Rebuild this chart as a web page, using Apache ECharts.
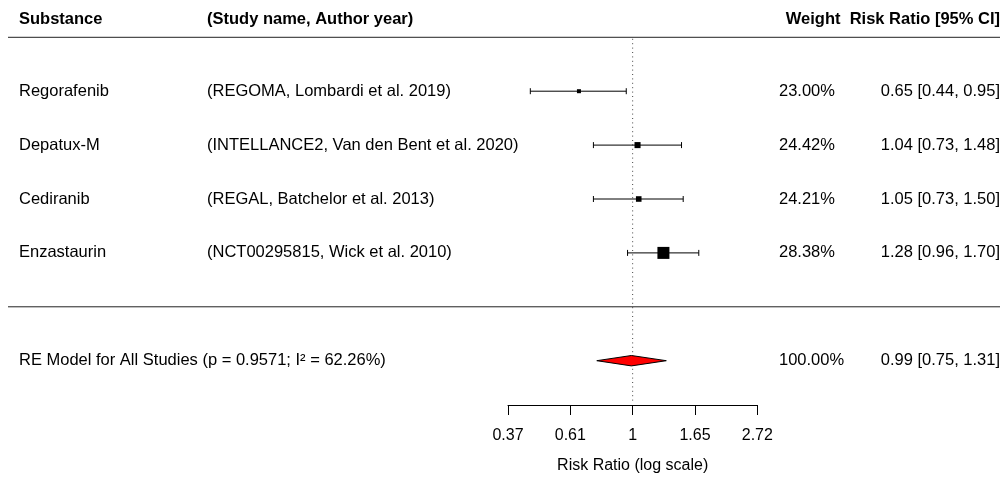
<!DOCTYPE html>
<html>
<head>
<meta charset="utf-8">
<script src="https://cdn.jsdelivr.net/npm/echarts@6/dist/echarts.min.js"></script>
<style>
html,body{margin:0;padding:0;background:#fff;}
#chart{width:1005px;height:479px;}
</style>
</head>
<body>
<div id="chart"></div>
<script>
// ---- data ----
const substances = ['Regorafenib', 'Depatux-M', 'Cediranib', 'Enzastaurin'];
const studies = ['(REGOMA, Lombardi et al. 2019)', '(INTELLANCE2, Van den Bent et al. 2020)', '(REGAL, Batchelor et al. 2013)', '(NCT00295815, Wick et al. 2010)'];
const riskRatio = [0.65, 1.04, 1.05, 1.28];
const lowerCI = [0.44, 0.73, 0.73, 0.96];
const upperCI = [0.95, 1.48, 1.50, 1.70];
const weights = ['23.00%', '24.42%', '24.21%', '28.38%'];
const ciLabels = ['0.65 [0.44, 0.95]', '1.04 [0.73, 1.48]', '1.05 [0.73, 1.50]', '1.28 [0.96, 1.70]'];
const summaryLabel = 'RE Model for All Studies (p = 0.9571; I\u00B2 = 62.26%)';
const summaryRR = 0.99, summaryLower = 0.75, summaryUpper = 1.31;
const summaryWeight = '100.00%';
const summaryCI = '0.99 [0.75, 1.31]';
const headers = ['Substance', '(Study name, Author year)', 'Weight  Risk Ratio [95% CI]'];
const tickValues = [-1, -0.5, 0, 0.5, 1];
const tickLabels = ['0.37', '0.61', '1', '1.65', '2.72'];
const axisTitle = 'Risk Ratio (log scale)';

// ---- layout / style ----
const FONT = '"Liberation Sans", Arial, Helvetica, sans-serif';
const FS = 16.5;
const AFS = 16;
const ROW_SUMMARY = 6, ROW_SEP = 5, ROW_TOP = 0, ROW_HEADER = -0.33;
const COL_SUB = 19, COL_STUDY = 207, COL_WEIGHT = 779, COL_CI_RIGHT = 1000;
const LINE_LEFT = 8, LINE_RIGHT = 1000;

// square size proportional to precision (metafor style, 0.5..1.5)
const prec = lowerCI.map((l, i) => 1 / ((Math.log(upperCI[i]) - Math.log(l)) / (2 * 1.96)));
const pmin = Math.min(...prec), pmax = Math.max(...prec);
const psize = prec.map(p => (p - pmin) / (pmax - pmin) + 0.5);
const BASE_SQ = 8;

const studyData = riskRatio.map((r, i) => [Math.log(r), i + 1, Math.log(lowerCI[i]), Math.log(upperCI[i]), psize[i]]);

function txt(str, x, y, align, bold) {
  return { type: 'text', style: { text: str, x: x, y: y, fill: '#000', fontSize: FS, fontFamily: FONT, fontWeight: bold ? 'bold' : 'normal', align: align, verticalAlign: 'middle' } };
}

const chart = echarts.init(document.getElementById('chart'), null, { renderer: 'canvas' });
chart.setOption({
  animation: false,
  backgroundColor: '#fff',
  grid: { left: 508, right: 247.7, top: 0, bottom: 74 },
  xAxis: {
    type: 'value', min: -1, max: 1, interval: 0.5, position: 'bottom',
    axisLine: { show: true, onZero: false, lineStyle: { color: '#000', width: 1 } },
    axisTick: { show: true, length: 10, lineStyle: { color: '#000', width: 1 } },
    axisLabel: { margin: 23, color: '#000', fontSize: AFS, fontFamily: FONT,
      formatter: v => { const k = tickValues.findIndex(t => Math.abs(t - v) < 1e-9); return k >= 0 ? tickLabels[k] : ''; } },
    splitLine: { show: false },
    name: axisTitle, nameLocation: 'middle', nameGap: 53,
    nameTextStyle: { color: '#000', fontSize: AFS, fontFamily: FONT }
  },
  yAxis: { type: 'value', inverse: true, min: -37.3 / 53.9, max: (405 - 37.3) / 53.9, show: false },
  series: [
    { // reference line + horizontal rules
      type: 'custom', clip: false, silent: true,
      data: [[0, ROW_TOP]],
      renderItem: function (params, api) {
        const top = api.coord([0, ROW_TOP]);
        const sep = api.coord([0, ROW_SEP]);
        const bottom = params.coordSys.y + params.coordSys.height;
        return { type: 'group', children: [
          { type: 'line', shape: { x1: top[0], y1: top[1] + 1.5, x2: top[0], y2: bottom - 3 }, style: { stroke: '#444', lineWidth: 1, lineDash: [1, 3.4] } },
          { type: 'line', shape: { x1: LINE_LEFT, y1: top[1], x2: LINE_RIGHT, y2: top[1] }, style: { stroke: '#222', lineWidth: 1 } },
          { type: 'line', shape: { x1: LINE_LEFT, y1: sep[1], x2: LINE_RIGHT, y2: sep[1] }, style: { stroke: '#222', lineWidth: 1 } }
        ] };
      }
    },
    { // study CIs and squares
      type: 'custom', clip: false, silent: true,
      data: studyData,
      encode: { x: 0, y: 1 },
      renderItem: function (params, api) {
        const c = api.coord([api.value(0), api.value(1)]);
        const lo = api.coord([api.value(2), api.value(1)]);
        const hi = api.coord([api.value(3), api.value(1)]);
        const s = BASE_SQ * api.value(4);
        const cap = 3;
        return { type: 'group', children: [
          { type: 'line', shape: { x1: lo[0], y1: c[1], x2: hi[0], y2: c[1] }, style: { stroke: '#000', lineWidth: 1 } },
          { type: 'line', shape: { x1: lo[0], y1: c[1] - cap, x2: lo[0], y2: c[1] + cap }, style: { stroke: '#000', lineWidth: 1 } },
          { type: 'line', shape: { x1: hi[0], y1: c[1] - cap, x2: hi[0], y2: c[1] + cap }, style: { stroke: '#000', lineWidth: 1 } },
          { type: 'rect', shape: { x: c[0] - s / 2, y: c[1] - s / 2, width: s, height: s }, style: { fill: '#000' } }
        ] };
      }
    },
    { // summary diamond
      type: 'custom', clip: false, silent: true,
      data: [[Math.log(summaryRR), ROW_SUMMARY, Math.log(summaryLower), Math.log(summaryUpper)]],
      encode: { x: 0, y: 1 },
      renderItem: function (params, api) {
        const c = api.coord([api.value(0), api.value(1)]);
        const lo = api.coord([api.value(2), api.value(1)]);
        const hi = api.coord([api.value(3), api.value(1)]);
        const h = 5.2;
        return { type: 'polygon', shape: { points: [[lo[0], c[1]], [c[0], c[1] - h], [hi[0], c[1]], [c[0], c[1] + h]] },
          style: { fill: '#ff0000', stroke: '#000', lineWidth: 1 } };
      }
    },
    { // text table
      type: 'custom', clip: false, silent: true,
      data: [[0, ROW_HEADER]].concat(substances.map((s, i) => [0, i + 1])).concat([[0, ROW_SUMMARY]]),
      encode: { x: 0, y: 1 },
      renderItem: function (params, api) {
        const y = api.coord([0, api.value(1)])[1];
        const idx = params.dataIndex;
        if (idx === 0) {
          return { type: 'group', children: [
            txt(headers[0], COL_SUB, y, 'left', true),
            txt(headers[1], COL_STUDY, y, 'left', true),
            txt(headers[2], COL_CI_RIGHT, y, 'right', true)
          ] };
        }
        if (idx <= substances.length) {
          const i = idx - 1;
          return { type: 'group', children: [
            txt(substances[i], COL_SUB, y, 'left'),
            txt(studies[i], COL_STUDY, y, 'left'),
            txt(weights[i], COL_WEIGHT, y, 'left'),
            txt(ciLabels[i], COL_CI_RIGHT, y, 'right')
          ] };
        }
        return { type: 'group', children: [
          txt(summaryLabel, COL_SUB, y, 'left'),
          txt(summaryWeight, COL_WEIGHT, y, 'left'),
          txt(summaryCI, COL_CI_RIGHT, y, 'right')
        ] };
      }
    }
  ]
});
</script>
</body>
</html>
